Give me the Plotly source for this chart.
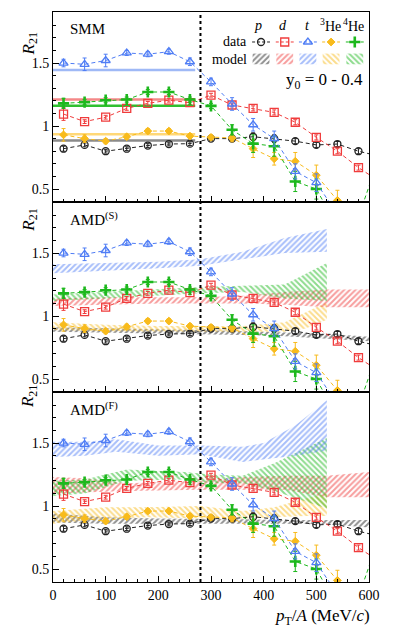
import plotly.graph_objects as go
from plotly.subplots import make_subplots

# measured R21 values (same data in all three panels)
pt = [20, 60, 100, 140, 180, 220, 260, 300, 340, 380, 420, 460, 500, 540, 580, 620]

r_p = [0.82, 0.85, 0.80, 0.82, 0.845, 0.857, 0.86, 0.90, 0.90, 0.915, 0.90, 0.88, 0.85, 0.857, 0.80, 0.76]
e_p = [0.02, 0.015, 0.015, 0.015, 0.015, 0.015, 0.015, 0.015, 0.015, 0.03, 0.03, 0.02, 0.02, 0.02, 0.02, 0.02]
r_d = [1.095, 1.035, 1.07, 1.14, 1.18, 1.205, 1.185, 1.245, 1.167, 1.14, 1.108, 1.03, 0.91, 0.80, 0.67, 0.56]
e_d = [0.05, 0.015, 0.015, 0.015, 0.015, 0.015, 0.015, 0.015, 0.015, 0.02, 0.02, 0.02, 0.02, 0.02, 0.02, 0.02]
r_t = [1.50, 1.49, 1.52, 1.58, 1.57, 1.59, 1.51, 1.35, 1.175, 1.01, 0.90, 0.64, 0.55, 0.30, 0.20, 0.20]
e_t = [0.03, 0.05, 0.05, 0.02, 0.02, 0.02, 0.03, 0.03, 0.05, 0.05, 0.06, 0.06, 0.07, 0.07, 0.07, 0.07]
r_he3 = [0.93, 0.90, 0.88, 0.915, 0.96, 0.96, 0.92, 0.91, 0.905, 0.82, 0.74, 0.72, 0.61, 0.41, 0.20, 0.10]
e_he3 = [0.05, 0.03, 0.02, 0.02, 0.02, 0.02, 0.02, 0.02, 0.03, 0.07, 0.05, 0.07, 0.08, 0.08, 0.08, 0.08]
r_he4 = [1.18, 1.19, 1.205, 1.21, 1.27, 1.27, 1.21, 1.16, 0.97, 0.86, 0.84, 0.56, 0.50, 0.20, 0.28, 0.76]
e_he4 = [0.04, 0.02, 0.02, 0.02, 0.02, 0.02, 0.02, 0.02, 0.04, 0.07, 0.08, 0.08, 0.08, 0.08, 0.08, 0.08]

# SMM model (constant values)
smm_x = [0, 270]
smm_p, smm_d, smm_t, smm_he3, smm_he4 = 0.885, 1.21, 1.445, 0.935, 1.16

# AMD(S) model bands: x, lower, upper
s_p = ([0, 100, 200, 280, 360, 440, 520, 600],
       [0.875, 0.87, 0.86, 0.855, 0.85, 0.84, 0.82, 0.80],
       [0.91, 0.905, 0.895, 0.89, 0.88, 0.87, 0.86, 0.835])
s_d = ([0, 100, 200, 280, 360, 440, 520, 600],
       [1.08, 1.09, 1.10, 1.10, 1.10, 1.09, 1.07, 1.07],
       [1.14, 1.15, 1.15, 1.15, 1.16, 1.19, 1.21, 1.21])
s_t = ([0, 100, 200, 280, 360, 440, 520],
       [1.34, 1.36, 1.38, 1.40, 1.45, 1.50, 1.51],
       [1.41, 1.42, 1.43, 1.45, 1.51, 1.62, 1.69])
s_he3 = ([0, 100, 200, 280, 360, 440, 480, 520],
         [0.89, 0.88, 0.88, 0.875, 0.875, 0.875, 0.90, 0.97],
         [0.95, 0.93, 0.92, 0.92, 0.92, 0.95, 1.03, 1.11])
s_he4 = ([0, 100, 200, 280, 360, 440, 520],
         [1.12, 1.14, 1.16, 1.18, 1.19, 1.14, 1.12],
         [1.17, 1.19, 1.21, 1.23, 1.24, 1.25, 1.42])

# AMD(F) model bands
f_p = ([0, 100, 200, 280, 360, 440, 520, 600],
       [0.87, 0.86, 0.86, 0.86, 0.86, 0.86, 0.855, 0.83],
       [0.94, 0.91, 0.90, 0.90, 0.895, 0.89, 0.89, 0.89])
f_d = ([0, 60, 140, 280, 360, 440, 520, 600],
       [1.10, 1.11, 1.12, 1.13, 1.13, 1.13, 1.07, 1.07],
       [1.23, 1.22, 1.18, 1.20, 1.23, 1.24, 1.24, 1.27])
f_t = ([0, 60, 120, 200, 280, 360, 400, 460, 520],
       [1.39, 1.40, 1.43, 1.40, 1.41, 1.35, 1.37, 1.40, 1.44],
       [1.51, 1.51, 1.53, 1.48, 1.48, 1.47, 1.50, 1.64, 1.84])
f_he3 = ([0, 100, 180, 280, 360, 420, 480, 520],
         [0.86, 0.90, 0.91, 0.90, 0.90, 0.91, 0.92, 0.92],
         [0.96, 0.99, 0.99, 1.00, 0.96, 0.99, 1.06, 1.10])
f_he4 = ([0, 60, 140, 250, 300, 360, 420, 520],
         [1.08, 1.10, 1.20, 1.21, 1.18, 1.18, 1.12, 0.98],
         [1.20, 1.21, 1.29, 1.27, 1.25, 1.24, 1.34, 1.54])

species = ["p", "d", "t", "He3", "He4"]
colors = {"p": "#222222", "d": "#f03c3c", "t": "#4f7df5", "He3": "#f8bb1c", "He4": "#1db81d"}
smm_colors = {"p": "#8a8a8a", "d": "#f48888", "t": "#9fb9f6", "He3": "#ffd877", "He4": "#2fbf2f"}
symbols = {"p": "circle-open", "d": "square-open", "t": "triangle-up-open",
           "He3": "diamond", "He4": "cross-thin"}
msize = {"p": 7, "d": 8, "t": 8, "He3": 6, "He4": 8}
mline = {"p": 1.3, "d": 1.3, "t": 1.3, "He3": 1, "He4": 2.6}
hatch = {"p": "/", "d": "/", "t": "/", "He3": "\\", "He4": "\\"}
data = {"p": (r_p, e_p), "d": (r_d, e_d), "t": (r_t, e_t), "He3": (r_he3, e_he3), "He4": (r_he4, e_he4)}
smm = {"p": smm_p, "d": smm_d, "t": smm_t, "He3": smm_he3, "He4": smm_he4}
amd_s = {"p": s_p, "d": s_d, "t": s_t, "He3": s_he3, "He4": s_he4}
amd_f = {"p": f_p, "d": f_d, "t": f_t, "He3": f_he3, "He4": f_he4}

FONT = "Liberation Serif"

fig = make_subplots(rows=3, cols=1, shared_xaxes=True, vertical_spacing=0)


def band(xs, lo, hi, s):
    return go.Scatter(x=list(xs) + list(xs)[::-1], y=list(hi) + list(lo)[::-1],
                      fill="toself", mode="lines", line=dict(width=0),
                      fillcolor="rgba(0,0,0,0)",
                      fillpattern=dict(shape=hatch[s], fgcolor=colors[s],
                                       bgcolor="rgba(0,0,0,0)", size=4, solidity=0.5),
                      hoverinfo="skip", showlegend=False)


def marker(s):
    return dict(symbol=symbols[s], size=msize[s], color=colors[s],
                line=dict(width=mline[s], color=colors[s]))


# panel 1: SMM lines
for s in species:
    fig.add_trace(go.Scatter(x=smm_x, y=[smm[s]] * 2, mode="lines",
                             line=dict(color=smm_colors[s], width=2.5),
                             showlegend=False), row=1, col=1)
# panels 2,3: hatched bands
for r, model in [(2, amd_s), (3, amd_f)]:
    for s in ["p", "He3", "d", "He4", "t"]:
        xs, lo, hi = model[s]
        fig.add_trace(band(xs, lo, hi, s), row=r, col=1)

# data in all panels
for r in [1, 2, 3]:
    for s in ["p", "He3", "d", "He4", "t"]:
        y, e = data[s]
        fig.add_trace(go.Scatter(
            x=pt, y=y, mode="lines+markers",
            line=dict(color=colors[s], width=1, dash="4px,3px"),
            marker=marker(s),
            error_y=dict(type="data", array=e, color=colors[s], thickness=1, width=2),
            showlegend=False), row=r, col=1)

# legend (drawn in panel 1 coordinates)
leg_x = [395, 440, 484, 528, 573]
head_x = [390, 437, 484, 527, 570]
heads = ["<i>p</i>", "<i>d</i>", "<i>t</i>", "<sup>3</sup>He", "<sup>4</sup>He"]
ann = []
for cx, hx, s, h in zip(leg_x, head_x, species, heads):
    ann.append(dict(x=hx, y=1.80, xref="x", yref="y", text=h, showarrow=False,
                    font=dict(family=FONT, size=14, color="black")))
    fig.add_trace(go.Scatter(x=[cx - 17, cx, cx + 17], y=[1.667] * 3, mode="lines",
                             line=dict(color=colors[s], width=1, dash="3px,2px"),
                             showlegend=False, hoverinfo="skip"), row=1, col=1)
    fig.add_trace(go.Scatter(x=[cx], y=[1.667], mode="markers", marker=marker(s),
                             showlegend=False, hoverinfo="skip"), row=1, col=1)
    fig.add_trace(band([cx - 16, cx + 16], [1.49, 1.49], [1.575, 1.575], s), row=1, col=1)

ann += [
    dict(x=372, y=1.667, xref="x", yref="y", text="data", showarrow=False, xanchor="right",
         font=dict(family=FONT, size=14, color="black")),
    dict(x=372, y=1.53, xref="x", yref="y", text="model", showarrow=False, xanchor="right",
         font=dict(family=FONT, size=14, color="black")),
    dict(x=515, y=1.36, xref="x", yref="y", text="y<sub>0</sub> = 0 - 0.4", showarrow=False,
         font=dict(family=FONT, size=17, color="black")),
    dict(x=28, y=1.77, xref="x", yref="y", text="SMM", showarrow=False, xanchor="left",
         font=dict(family=FONT, size=15, color="black")),
    dict(x=28, y=1.77, xref="x2", yref="y2", text="AMD<sup>(S)</sup>", showarrow=False,
         xanchor="left", font=dict(family=FONT, size=15, color="black")),
    dict(x=28, y=1.77, xref="x3", yref="y3", text="AMD<sup>(F)</sup>", showarrow=False,
         xanchor="left", font=dict(family=FONT, size=15, color="black")),
    dict(x=1.01, y=-0.039, xref="paper", yref="paper", xanchor="right", yanchor="top",
         text="<i>p</i><sub>T</sub>/<i>A</i> (MeV/<i>c</i>)", showarrow=False,
         font=dict(family=FONT, size=17, color="black")),
]
for yc in [0.968, 0.635, 0.302]:
    ann.append(dict(x=-0.115, y=yc, xref="paper", yref="paper", text="<i>R</i><sub>21</sub>",
                    textangle=-90, showarrow=False,
                    font=dict(family=FONT, size=17, color="black")))

fig.add_shape(type="line", x0=280, x1=280, y0=0, y1=1, xref="x", yref="paper",
              line=dict(color="black", width=2, dash="dot"))

fig.update_xaxes(range=[0, 600], showline=True, linecolor="black", linewidth=1, mirror=True,
                 ticks="inside", ticklen=6, tickcolor="black", dtick=100,
                 minor=dict(dtick=20, ticks="inside", ticklen=3, tickcolor="black"),
                 showgrid=False, zeroline=False,
                 tickfont=dict(family=FONT, size=14, color="black"))
fig.update_yaxes(range=[0.397, 1.905], showline=True, linecolor="black", linewidth=1, mirror=True,
                 ticks="inside", ticklen=6, tickcolor="black",
                 tickvals=[0.5, 1, 1.5], ticktext=["0.5", "1", "1.5"],
                 minor=dict(dtick=0.1, ticks="inside", ticklen=3, tickcolor="black"),
                 showgrid=False, zeroline=False,
                 tickfont=dict(family=FONT, size=14, color="black"))

# page body has an 8px margin, so the figure is offset by 8px
fig.update_layout(width=379, height=625, margin=dict(l=45, r=18, t=4, b=51),
                  plot_bgcolor="white", paper_bgcolor="white", annotations=ann,
                  showlegend=False)

fig.write_html("out.html")
